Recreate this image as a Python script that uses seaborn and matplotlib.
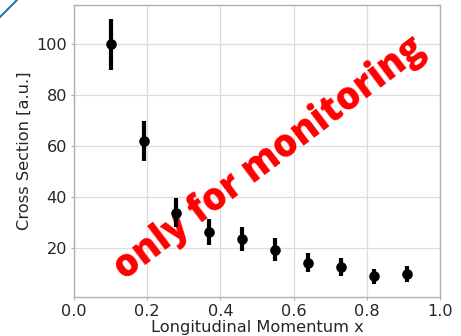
import matplotlib
matplotlib.use("Agg")
import matplotlib.pyplot as plt
import seaborn as sns
import pandas as pd
from matplotlib.lines import Line2D

x_values = [0.10, 0.19, 0.28, 0.37, 0.46, 0.55, 0.64, 0.73, 0.82, 0.91]
cross_section = [100.0, 62.0, 34.0, 26.5, 23.7, 19.5, 14.4, 12.7, 9.0, 10.0]
errors = [10.0, 7.9, 5.8, 5.1, 4.8, 4.4, 3.7, 3.5, 3.0, 3.2]
x_label = "Longitudinal Momentum x"
y_label = "Cross Section [a.u.]"
watermark = "only for monitoring"

df = pd.DataFrame({"x": x_values, "y": cross_section, "err": errors})

sns.set_style("whitegrid", {
    "axes.edgecolor": "#b0b0b0",
    "grid.color": "#dcdcdc",
    "xtick.bottom": True,
    "ytick.left": True,
    "xtick.color": "#b0b0b0",
    "ytick.color": "#b0b0b0",
    "axes.labelcolor": "#262626",
    "text.color": "#262626",
})
plt.rcParams["font.family"] = ["DejaVu Sans"]

fig, ax = plt.subplots(figsize=(4.61, 3.36), dpi=100)
fig.subplots_adjust(left=0.1605, right=0.9544, top=0.9851, bottom=0.1161)

ax.errorbar(df["x"], df["y"], yerr=df["err"], fmt="none", ecolor="black",
            elinewidth=3.0, capsize=0, zorder=3)
sns.scatterplot(data=df, x="x", y="y", ax=ax, color="black", s=58,
                edgecolor="black", linewidth=0, zorder=4)

ax.set_xlim(0, 1.0)
ax.set_ylim(0.9, 115.3)
ax.set_xticks([0.0, 0.2, 0.4, 0.6, 0.8, 1.0])
ax.set_yticks([20, 40, 60, 80, 100])
ax.tick_params(axis="both", labelsize=11.6, labelcolor="#262626", length=2.5,
               width=0.8, pad=2.5)
ax.set_xlabel(x_label, fontsize=11.7, labelpad=1)
ax.set_ylabel(y_label, fontsize=11.7, labelpad=3)
for s in ax.spines.values():
    s.set_linewidth(1.0)
ax.grid(True, linewidth=0.9)

ax.text(0.535, 0.475, watermark, transform=ax.transAxes, rotation=37,
        ha="center", va="center", color="red", fontsize=27,
        fontweight=800, family="Open Sans", zorder=2)

fig.add_artist(Line2D([0, 17 / 461], [1 - 17 / 336, 1], transform=fig.transFigure,
                      color="#1f77b4", linewidth=1.5))

fig.savefig("out.png", dpi=100)
